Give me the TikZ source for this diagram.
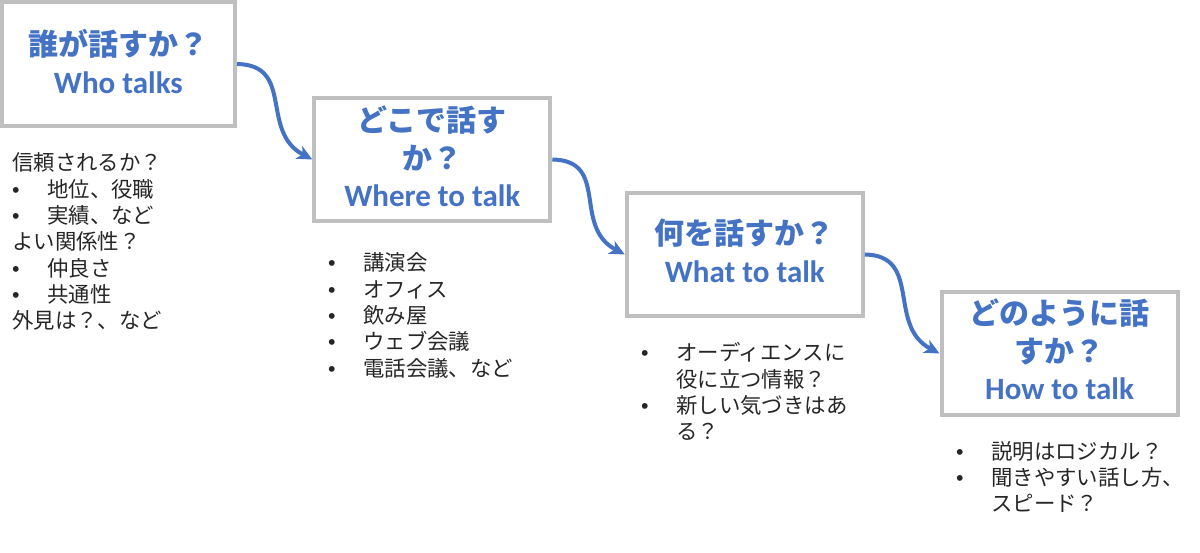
\documentclass[tikz,border=0pt]{standalone}
\usepackage{fontspec}
\setmainfont{Noto Sans CJK JP}
\newfontfamily\jp{Noto Sans CJK JP}
\newfontfamily\en{Carlito}
\newfontfamily\blt{Liberation Sans}
\usetikzlibrary{arrows.meta}
\definecolor{tblue}{HTML}{4472C4}
\definecolor{bgrey}{HTML}{BFBFBF}
\definecolor{tcol}{HTML}{262626}
\newcommand{\jpt}{\jp\bfseries\fontsize{30}{37.5}\selectfont}
\newcommand{\ent}{\en\bfseries\fontsize{31}{37.5}\selectfont}
\newcommand{\ttl}[1]{\vtop{\baselineskip=37.5pt\lineskiplimit=-100pt\halign{\hfil##\hfil\cr#1\crcr}}}
\newcommand{\lst}[1]{\vtop{\baselineskip=26.3pt\lineskiplimit=-100pt #1}}
\newcommand{\bi}[1]{\hbox{\makebox[35pt][l]{\blt •}#1}}
\newcommand{\pl}[1]{\hbox{#1}}
\newcommand{\cn}[1]{\hbox{\hspace{35pt}#1}}
\begin{document}
\begin{tikzpicture}[x=1pt,y=-1pt,
  box/.style={draw=bgrey, line width=4pt, fill=white, minimum width=236pt, minimum height=123pt, inner sep=0pt},
  title/.style={anchor=base, inner sep=0pt, text=tblue},
  list/.style={anchor=base west, inner sep=0pt, text=tcol, font=\jp\fontsize{21.4}{26.3}\selectfont},
  conn/.style={draw=tblue, line width=4pt, -{Stealth[length=15pt,width=14pt,inset=4pt]}}]
\fill[white] (0,0) rectangle (1200,553);
\useasboundingbox (0,0) rectangle (1200,553);
\node[box, minimum width=233.5pt, minimum height=124.5pt] (b1) at (118.3,64) {};
\node[box] (b2) at (432.3,159.5) {};
\node[box] (b3) at (744.8,254.5) {};
\node[box] (b4) at (1059.5,353.5) {};
\node[title] (t1) at (118.3,56) {\ttl{\jpt 誰が話すか？\cr \ent Who talks}};
\node[title] (t2) at (432.3,132) {\ttl{\jpt どこで話す\cr \jpt か？\cr \ent Where to talk}};
\node[title] (t3) at (744.8,245) {\ttl{\jpt 何を話すか？\cr \ent What to talk}};
\node[title] (t4) at (1059.5,325) {\ttl{\jpt どのように話\cr \jpt すか？\cr \ent How to talk}};
\node[list] (l1) at (12,171) {\lst{\pl{信頼されるか？}\bi{地位、役職}\bi{実績、など}\pl{よい関係性？}\bi{仲良さ}\bi{共通性}\pl{外見は？、など}}};
\node[list] (l2) at (328,271) {\lst{\bi{講演会}\bi{オフィス}\bi{飲み屋}\bi{ウェブ会議}\bi{電話会議、など}}};
\node[list] (l3) at (641,361) {\lst{\bi{オーディエンスに}\cn{役に立つ情報？}\bi{新しい気づきはあ}\cn{る？}}};
\node[list] (l4) at (956,459) {\lst{\bi{説明はロジカル？}\bi{聞きやすい話し方、}\cn{スピード？}}};
\draw[conn] (b1.east) .. controls +(58,1) and +(-53,-28) .. (b2.west);
\draw[conn] (b2.east) .. controls +(58,1) and +(-53,-28) .. (b3.west);
\draw[conn] (b3.east) .. controls +(58,1) and +(-53,-28) .. (b4.west);
\end{tikzpicture}
\end{document}
